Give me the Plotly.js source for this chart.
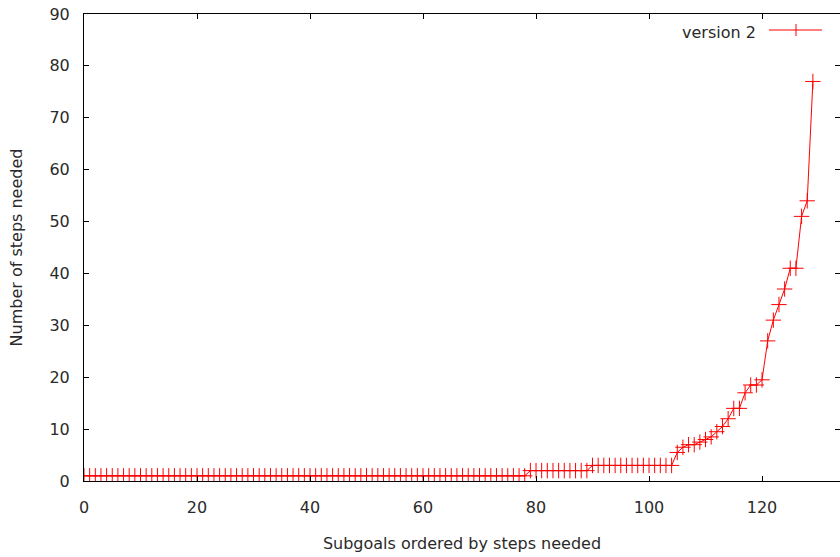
<!DOCTYPE html>
<html><head><meta charset="utf-8">
<script src="https://cdn.plot.ly/plotly-3.0.1.min.js"></script>
<style>html,body{margin:0;padding:0;overflow:hidden;background:#fff}</style>
</head><body><div id="chart" style="width:840px;height:557px"></div>
<script>
// Steps needed per subgoal, ordered (index 0..129)
const stepsNeeded = [
  1,1,1,1,1,1,1,1,1,1, 1,1,1,1,1,1,1,1,1,1,
  1,1,1,1,1,1,1,1,1,1, 1,1,1,1,1,1,1,1,1,1,
  1,1,1,1,1,1,1,1,1,1, 1,1,1,1,1,1,1,1,1,1,
  1,1,1,1,1,1,1,1,1,1, 1,1,1,1,1,1,1,1,1,
  2,2,2,2,2,2,2,2,2,2,2,
  3,3,3,3,3,3,3,3,3,3,3,3,3,3,3,
  5.5,6.5,7,7,7.5,8,8.5,9.5,10.5,12,14,14,17,18.5,18.5,19.5,
  27,31,34,37,41,41,51,54,77
];
const subgoalIndex = stepsNeeded.map((_, i) => i);
const seriesName = "version 2";
const xTitle = "Subgoals ordered by steps needed";
const yTitle = "Number of steps needed";

const font = {family: "DejaVu Sans, Verdana, sans-serif", size: 16, color: "#2a2a2a"};
const L = 84, R = 840, T = 14, B = 481;
const px = v => (v - L) / (R - L);
const py = v => (B - v) / (B - T);

const trace = {
  x: subgoalIndex, y: stepsNeeded, type: "scatter", mode: "lines+markers",
  name: seriesName, showlegend: false,
  line: {color: "#ff0000", width: 1},
  marker: {symbol: "cross-thin-open", size: 11, color: "#ff0000", line: {color: "#ff0000", width: 1}}
};

const layout = {
  width: 840, height: 557,
  margin: {l: L, r: 0, t: T, b: 557 - B},
  paper_bgcolor: "#fff", plot_bgcolor: "#fff",
  font: font,
  xaxis: {
    range: [0, 133.8], tickvals: [0,20,40,60,80,100,120],
    ticks: "inside", ticklen: 5, tickcolor: "#000", tickwidth: 1,
    showline: true, linecolor: "#000", linewidth: 1, mirror: "ticks",
    showgrid: false, zeroline: false, ticklabelstandoff: 12,
    title: {text: xTitle, font: font, standoff: 21}
  },
  yaxis: {
    range: [0, 90], tickvals: [0,10,20,30,40,50,60,70,80,90],
    ticks: "inside", ticklen: 5, tickcolor: "#000", tickwidth: 1,
    showline: true, linecolor: "#000", linewidth: 1, mirror: "ticks",
    showgrid: false, zeroline: false, ticklabelstandoff: 10,
    title: {text: yTitle, font: font, standoff: 22}
  },
  shapes: [
    {type: "line", xref: "paper", yref: "paper", x0: px(769), x1: px(822), y0: py(30), y1: py(30), line: {color: "#ff0000", width: 1}},
    {type: "line", xref: "paper", yref: "paper", x0: px(796), x1: px(796), y0: py(24), y1: py(36), line: {color: "#ff0000", width: 1}}
  ],
  annotations: [
    {text: seriesName, xref: "paper", yref: "paper", x: px(758), y: py(33), xanchor: "right", yanchor: "middle", showarrow: false, font: font}
  ]
};
Plotly.newPlot("chart", [trace], layout, {displayModeBar: false, staticPlot: true});
</script></body></html>
